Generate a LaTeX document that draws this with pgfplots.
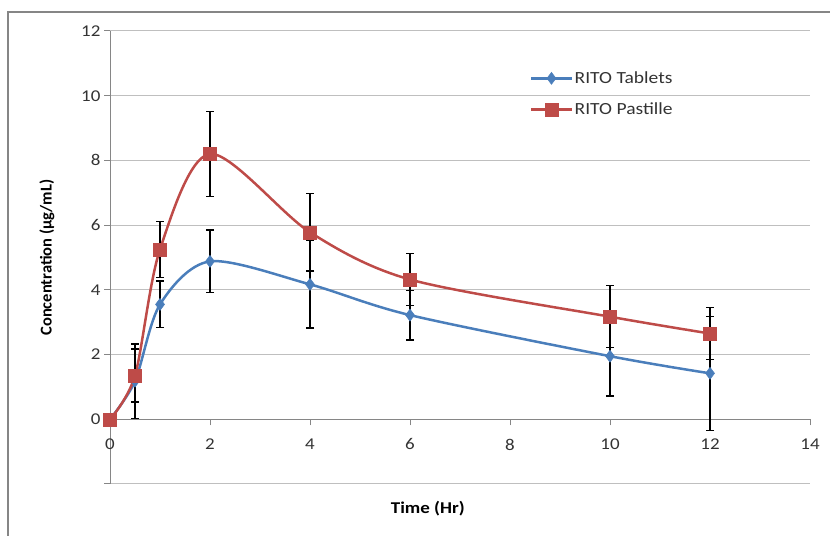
\documentclass[border=0pt]{standalone}
\usepackage{pgfplots}
\pgfplotsset{compat=1.18}
\usepackage{pgfplotstable}
\usepackage{fontspec}
\setmainfont{Carlito}[FakeStretch=1.15]
\newfontfamily\plainfont{Carlito}
\definecolor{sblue}{HTML}{4A7EBB}
\definecolor{sred}{HTML}{BE4B48}
\definecolor{gridgray}{HTML}{BFBFBF}
\definecolor{axgray}{HTML}{868686}

\pgfplotstableread{
x y e
0 0 0
0.5 1.18 1.15
1 3.55 0.72
2 4.88 0.97
4 4.17 1.35
6 3.22 0.77
10 1.95 1.23
12 1.42 1.76
}\tablets

\pgfplotstableread{
x y e
0 0 0
0.5 1.35 0.82
1 5.25 0.86
2 8.2 1.32
4 5.78 1.2
6 4.32 0.8
10 3.17 0.96
12 2.65 0.8
}\pastille

\begin{document}
\begin{tikzpicture}
\useasboundingbox (0,0) rectangle (830bp,536bp);
\draw[axgray, line width=1.2bp] (8bp,-20bp) -- (8bp,524bp) -- (850bp,524bp);
\begin{axis}[
  at={(110bp,52bp)}, anchor=south west,
  scale only axis, width=700bp, height=453bp,
  xmin=0, xmax=14, ymin=-2, ymax=12,
  clip=false,
  axis y line*=left, axis x line*=middle,
  hide obscured x ticks=false,
  axis line style={axgray, line width=1bp},
  xtick={0,2,...,14}, ytick={-2,0,...,12},
  yticklabels={,0,2,4,6,8,10,12},
  tick align=outside, major tick length=6bp,
  tick style={axgray, line width=1bp},
  ymajorgrids, grid style={gridgray, line width=1bp},
  /pgf/number format/assume math mode=true,
  tick label style={font=\fontsize{16.5bp}{18bp}\selectfont, text=black!80},
  xticklabel style={yshift=-10bp},
  xlabel={\textbf{Time (Hr)}},
  ylabel={\plainfont\bfseries Concentration (µg/mL)},
  every axis x label/.style={at={(axis description cs:0.454,-0.055)}, anchor=center, font=\fontsize{16.5bp}{18bp}\selectfont},
  every axis y label/.style={at={(axis description cs:-0.09,0.5)}, anchor=center, rotate=90, font=\fontsize{16.5bp}{18bp}\selectfont},
  legend style={draw=none, fill=none, at={(0.6,0.915)}, anchor=north west,
    font=\fontsize{17bp}{19bp}\selectfont, text=black!80, row sep=14bp, inner sep=0pt,
    cells={anchor=west}},
  legend image code/.code={\draw[mark repeat=2,mark phase=2,#1] plot coordinates {(0bp,0bp) (20bp,0bp) (40bp,0bp)};},
]
\addplot[sblue, line width=2.5bp, smooth, mark=diamond*, mark size=6bp,
  mark options={solid, line width=0.5bp},
  error bars/.cd, y dir=both, y explicit,
  error bar style={black, line width=1.3bp},
  error mark options={black, rotate=90, mark size=4bp, line width=1.3bp}]
  table[x=x, y=y, y error=e] {\tablets};
\addlegendentry{RITO Tablets}
\addplot[sred, line width=2.5bp, smooth, mark=square*, mark size=6.5bp,
  mark options={solid, line width=0.5bp},
  error bars/.cd, y dir=both, y explicit,
  error bar style={black, line width=1.3bp},
  error mark options={black, rotate=90, mark size=4bp, line width=1.3bp}]
  table[x=x, y=y, y error=e] {\pastille};
\addlegendentry{RITO Pastille}
\end{axis}
\end{tikzpicture}
\end{document}
